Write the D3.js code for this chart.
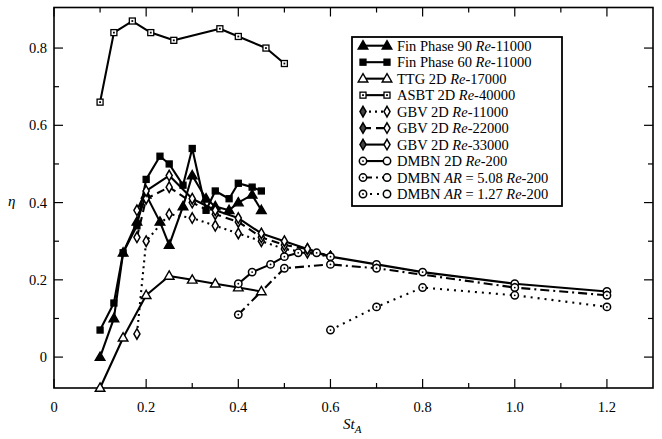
<!DOCTYPE html>
<html><head><meta charset="utf-8">
<script src="https://cdn.jsdelivr.net/npm/d3@7"></script>
<style>
body{margin:0;background:#fff}
</style>
</head><body>
<svg id="c" width="662" height="439" font-family="Liberation Serif, Tinos, Times New Roman, DejaVu Serif, serif"></svg>
<script>
// ---------- data ----------
const xTickLabels = ["0","0.2","0.4","0.6","0.8","1.0","1.2"];
const yTickLabels = ["0","0.2","0.4","0.6","0.8"];

const finP90X = [0.10,0.13,0.15,0.18,0.20,0.23,0.25,0.28,0.30,0.33,0.35,0.38,0.40,0.43,0.45];
const finP90Y = [0.00,0.10,0.27,0.35,0.42,0.35,0.29,0.39,0.47,0.41,0.39,0.38,0.40,0.42,0.38];

const finP60X = [0.10,0.13,0.15,0.18,0.20,0.23,0.25,0.28,0.30,0.33,0.35,0.38,0.40,0.43,0.45];
const finP60Y = [0.07,0.14,0.27,0.34,0.46,0.52,0.50,0.445,0.54,0.38,0.43,0.41,0.45,0.44,0.43];

const ttgX = [0.10,0.15,0.20,0.25,0.30,0.35,0.40,0.45];
const ttgY = [-0.08,0.05,0.16,0.21,0.20,0.19,0.18,0.17];

const asbtX = [0.10,0.13,0.17,0.21,0.26,0.36,0.40,0.46,0.50];
const asbtY = [0.66,0.84,0.87,0.84,0.82,0.85,0.83,0.80,0.76];

const gbv11X = [0.18,0.20,0.25,0.30,0.35,0.40,0.45,0.50,0.55,0.60];
const gbv11Y = [0.06,0.30,0.37,0.36,0.34,0.32,0.30,0.28,0.27,0.26];

const gbv22X = [0.18,0.20,0.25,0.30,0.35,0.40,0.45,0.50,0.55,0.60];
const gbv22Y = [0.31,0.41,0.44,0.40,0.37,0.35,0.31,0.29,0.28,0.26];

const gbv33X = [0.18,0.20,0.25,0.30,0.35,0.40,0.45,0.50,0.55,0.60];
const gbv33Y = [0.38,0.43,0.47,0.41,0.38,0.36,0.32,0.30,0.28,0.26];

const dmbnX = [0.40,0.43,0.47,0.50,0.53,0.57,0.60,0.70,0.80,1.00,1.20];
const dmbnY = [0.19,0.22,0.24,0.26,0.27,0.27,0.26,0.24,0.22,0.19,0.17];

const ar508X = [0.40,0.50,0.60,0.70,1.00,1.20];
const ar508Y = [0.11,0.23,0.24,0.23,0.18,0.16];

const ar127X = [0.60,0.70,0.80,1.00,1.20];
const ar127Y = [0.07,0.13,0.18,0.16,0.13];

const legendLabels = [
  "Fin Phase 90 *Re*-11000",
  "Fin Phase 60 *Re*-11000",
  "TTG 2D *Re*-17000",
  "ASBT 2D *Re*-40000",
  "GBV 2D *Re*-11000",
  "GBV 2D *Re*-22000",
  "GBV 2D *Re*-33000",
  "DMBN 2D *Re*-200",
  "DMBN *AR* = 5.08 *Re*-200",
  "DMBN *AR* = 1.27 *Re*-200"
];

// ---------- styles ----------
const series = [
  {x:finP90X,y:finP90Y,m:"tri",fill:"#000",dash:null},
  {x:finP60X,y:finP60Y,m:"sq",fill:"#000",dash:null},
  {x:ttgX,y:ttgY,m:"tri",fill:"#fff",dash:null},
  {x:asbtX,y:asbtY,m:"sq",fill:"#fff",dash:null,dot:true},
  {x:gbv11X,y:gbv11Y,m:"dia",fill:"#fff",dash:"2,4"},
  {x:gbv22X,y:gbv22Y,m:"dia",fill:"#fff",dash:"8,5"},
  {x:gbv33X,y:gbv33Y,m:"dia",fill:"#fff",dash:null},
  {x:dmbnX,y:dmbnY,m:"circ",fill:"#fff",dash:null,dot:true},
  {x:ar508X,y:ar508Y,m:"circ",fill:"#fff",dash:"9,4,2,4",dot:true},
  {x:ar127X,y:ar127Y,m:"circ",fill:"#fff",dash:"2,5",dot:true}
];

const svg = d3.select("#c");
const L=54, R=653, T=7.5, B=388;
const x = d3.scaleLinear().domain([0,1.3]).range([L,R]);
const y = d3.scaleLinear().domain([-0.08,0.905]).range([B,T]);

// frame
svg.append("rect").attr("x",L).attr("y",T).attr("width",R-L).attr("height",B-T)
  .attr("fill","none").attr("stroke","#000").attr("stroke-width",1.6);

// ticks
const xMinor = d3.range(0,13).map(i=>i/10);
const yMinor = d3.range(0,9).map(i=>i/10);
const major=9, minor=5;
xMinor.forEach((v,i)=>{
  const len = (i%2===0)?major:minor;
  svg.append("line").attr("x1",x(v)).attr("x2",x(v)).attr("y1",B).attr("y2",B-len).attr("stroke","#000").attr("stroke-width",1.2);
  svg.append("line").attr("x1",x(v)).attr("x2",x(v)).attr("y1",T).attr("y2",T+len).attr("stroke","#000").attr("stroke-width",1.2);
});
yMinor.forEach((v,i)=>{
  const len = (i%2===0)?major:minor;
  svg.append("line").attr("y1",y(v)).attr("y2",y(v)).attr("x1",L).attr("x2",L+len).attr("stroke","#000").attr("stroke-width",1.2);
  svg.append("line").attr("y1",y(v)).attr("y2",y(v)).attr("x1",R).attr("x2",R-len).attr("stroke","#000").attr("stroke-width",1.2);
});
xTickLabels.forEach(t=>{
  svg.append("text").attr("x",x(+t)).attr("y",412).attr("text-anchor","middle")
    .attr("font-size",14.5).text(t);
});
yTickLabels.forEach(t=>{
  svg.append("text").attr("x",47).attr("y",y(+t)+5).attr("text-anchor","end")
    .attr("font-size",14.5).text(t);
});
// axis titles
const xt = svg.append("text").attr("x",343).attr("y",429).attr("font-size",15).attr("font-style","italic");
xt.append("tspan").text("St");
xt.append("tspan").attr("dy",4).attr("font-size",11).text("A");
svg.append("text").attr("x",8).attr("y",206).attr("font-size",15).attr("font-style","italic").text("η");

// markers
function drawMarker(g,m,cx,cy,fill,dot){
  if(m==="tri"){
    g.append("path").attr("d",d3.symbol().type(d3.symbolTriangle).size(40)())
     .attr("transform",`translate(${cx},${cy+0.5})`).attr("fill",fill).attr("stroke","#000").attr("stroke-width",1.4);
  } else if(m==="sq"){
    g.append("rect").attr("x",cx-3).attr("y",cy-3).attr("width",6).attr("height",6)
     .attr("fill",fill).attr("stroke","#000").attr("stroke-width",1.3);
    if(dot) g.append("rect").attr("x",cx-0.9).attr("y",cy-0.9).attr("width",1.8).attr("height",1.8).attr("fill","#000");
  } else if(m==="dia"){
    g.append("path").attr("d",d3.symbol().type(d3.symbolDiamond).size(32)())
     .attr("transform",`translate(${cx},${cy})`).attr("fill",fill).attr("stroke","#000").attr("stroke-width",1.5);
  } else if(m==="circ"){
    g.append("circle").attr("cx",cx).attr("cy",cy).attr("r",3.7).attr("fill",fill).attr("stroke","#000").attr("stroke-width",1.5);
    if(dot) g.append("circle").attr("cx",cx).attr("cy",cy).attr("r",0.9).attr("fill","#000");
  }
}

const line = d3.line().x(d=>x(d[0])).y(d=>y(d[1]));
const gl = svg.append("g");
const gm = svg.append("g");
series.forEach(s=>{
  const pts = s.x.map((v,i)=>[v,s.y[i]]);
  gl.append("path").attr("d",line(pts)).attr("fill","none").attr("stroke","#000")
    .attr("stroke-width",2.1).attr("stroke-dasharray",s.dash).attr("stroke-linejoin","round");
  pts.forEach(p=>drawMarker(gm,s.m,x(p[0]),y(p[1]),s.fill,s.dot));
});

// legend
const lg = svg.append("g");
lg.append("rect").attr("x",352).attr("y",37).attr("width",210).attr("height",169)
  .attr("fill","#fff").attr("stroke","#000").attr("stroke-width",1.8);
legendLabels.forEach((lab,i)=>{
  const cy = 45.7 + i*16.48;
  const s = series[i];
  lg.append("line").attr("x1",363).attr("x2",387).attr("y1",cy).attr("y2",cy)
    .attr("stroke","#000").attr("stroke-width",2.1).attr("stroke-dasharray",s.dash);
  const lfill = (s.m==="dia") ? "#444" : s.fill;
  drawMarker(lg,s.m,363,cy,lfill,s.dot);
  drawMarker(lg,s.m,387,cy,s.fill,s.dot && s.m!=="circ");
  const t = lg.append("text").attr("x",397).attr("y",cy+5).attr("font-size",14.5);
  lab.split("*").forEach((part,k)=>{
    if(part.length) t.append("tspan").attr("font-style",k%2?"italic":"normal").text(part);
  });
});
</script>
</body></html>
